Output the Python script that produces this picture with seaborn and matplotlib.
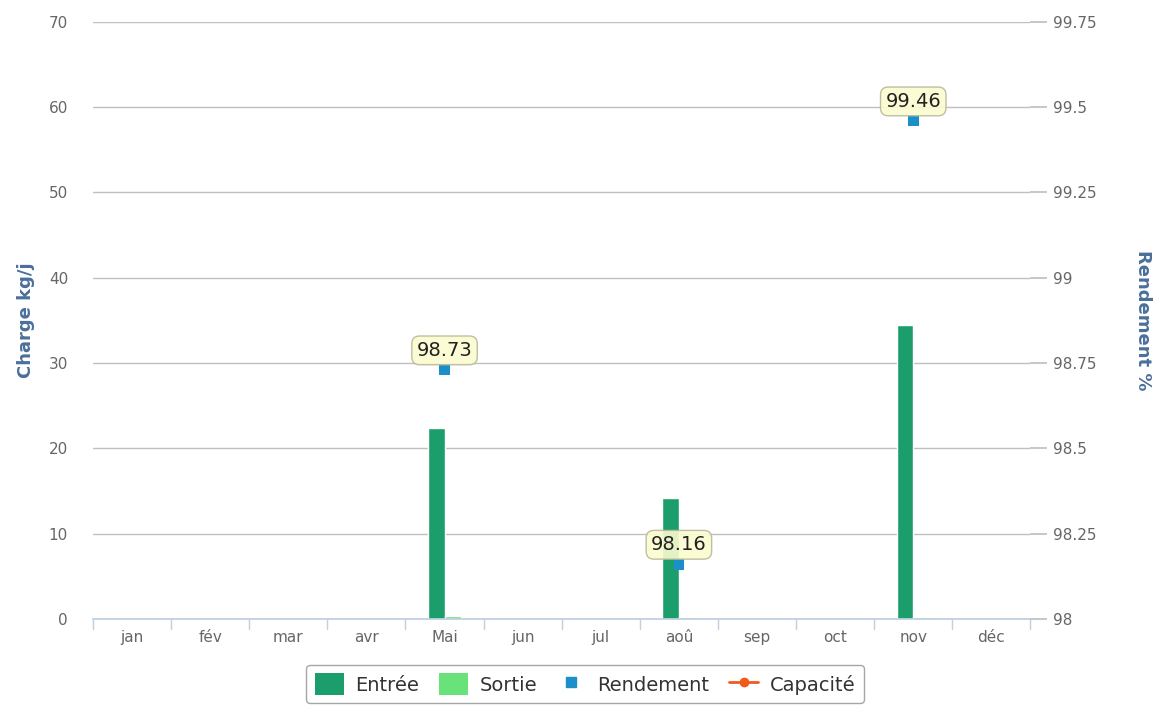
import numpy as np
import pandas as pd
import matplotlib.pyplot as plt
import seaborn as sns
from matplotlib.patches import Patch
from matplotlib.lines import Line2D

sns.set_theme(style="white")
plt.rcParams['font.family'] = ['DejaVu Sans']

# Data
mois = ['jan', 'fév', 'mar', 'avr', 'Mai', 'jun', 'jul', 'aoû', 'sep', 'oct', 'nov', 'déc']
entree = [0, 0, 0, 0, 22.4, 0, 0, 14.2, 0, 0, 34.5, 0]
sortie = [0, 0, 0, 0, 0.28, 0, 0, 0.26, 0, 0, 0.19, 0]
rendement = [np.nan, np.nan, np.nan, np.nan, 98.73, np.nan, np.nan, 98.16, np.nan, np.nan, 99.46, np.nan]
capacite = [np.nan] * 12

left_ticks = [0, 10, 20, 30, 40, 50, 60, 70]
right_ticks = [98, 98.25, 98.5, 98.75, 99, 99.25, 99.5, 99.75]
right_labels = ['98', '98.25', '98.5', '98.75', '99', '99.25', '99.5', '99.75']

c_entree = '#1b9e6b'
c_sortie = '#6ae27a'
c_rend = '#1b8fc9'
c_cap = '#f25a1a'
c_title = '#4a6f9a'
c_tick = '#666666'

df = pd.DataFrame({
    'mois': mois * 2,
    'valeur': entree + sortie,
    'serie': ['Entrée'] * 12 + ['Sortie'] * 12,
})

fig = plt.figure(figsize=(11.63, 7.08), dpi=100)
ax = fig.add_axes([0.080, 0.126, 0.806, 0.843])

sns.barplot(data=df, x='mois', y='valeur', hue='serie', ax=ax,
            palette=[c_entree, c_sortie], width=0.42, saturation=1,
            dodge=True, legend=False)

ax.set_xlim(-0.5, 11.5)
ax.set_ylim(0, 70)
ax.set_yticks(left_ticks)
ax.set_yticklabels([str(t) for t in left_ticks], color=c_tick, fontsize=11)
ax.set_xticks(range(12))
ax.set_xticklabels(mois, color=c_tick, fontsize=11)
ax.set_xlabel('')
ax.set_ylabel('Charge kg/j', color=c_title, fontsize=13, fontweight='bold', labelpad=10)
ax.grid(axis='y', color='#c0c0c0', linewidth=1)
ax.set_axisbelow(True)
for s in ['top', 'right', 'left']:
    ax.spines[s].set_visible(False)
ax.spines['bottom'].set_color('#c0d0e0')
ax.tick_params(axis='x', length=0, pad=8)
ax.tick_params(axis='y', length=0, pad=18)
# category separators on the x axis
for b in np.arange(-0.5, 12, 1):
    ax.plot([b, b], [0, -1.2], color='#c0d0e0', lw=1, clip_on=False)

ax2 = ax.twinx()
ax2.set_ylim(98, 99.75)
ax2.set_yticks(right_ticks)
ax2.set_yticklabels(right_labels, color=c_tick, fontsize=11)
ax2.tick_params(axis='y', length=12, color='#c0c0c0', pad=4)
for s in ['top', 'right', 'left', 'bottom']:
    ax2.spines[s].set_visible(False)
ax2.set_ylabel('Rendement %', color=c_title, fontsize=13, fontweight='bold',
               rotation=270, labelpad=40)

x = np.arange(12)
sns.scatterplot(x=x, y=rendement, ax=ax2, marker='s', s=60, color=c_rend,
                edgecolor='none', zorder=5)
ax2.plot(x, capacite, color=c_cap, marker='o')

for xi, v in zip(x, rendement):
    if np.isnan(v):
        continue
    ax2.annotate(f"{v:.2f}", (xi, v), xytext=(0, 14), textcoords='offset points',
                 ha='center', va='center', fontsize=14, color='#222222', zorder=6,
                 bbox=dict(boxstyle='round,pad=0.25,rounding_size=0.4',
                           fc='#fbfbd0', ec='#b8b89a', lw=1, alpha=0.9))

handles = [
    Patch(facecolor=c_entree, edgecolor='none', label='Entrée'),
    Patch(facecolor=c_sortie, edgecolor='none', label='Sortie'),
    Line2D([], [], color=c_rend, marker='s', linestyle='none', markersize=7, label='Rendement'),
    Line2D([], [], color=c_cap, marker='o', markersize=6, lw=2, label='Capacité'),
]
leg = fig.legend(handles=handles, loc='center', bbox_to_anchor=(585 / 1163, 24 / 708),
                 ncol=4, frameon=True, fontsize=14, handlelength=1.5, handleheight=1.3,
                 columnspacing=1.0, handletextpad=0.6, borderpad=0.45, fancybox=True)
leg.get_frame().set_edgecolor('#909090')
for t in leg.get_texts():
    t.set_color('#333333')

fig.savefig('out.png', dpi=100)
